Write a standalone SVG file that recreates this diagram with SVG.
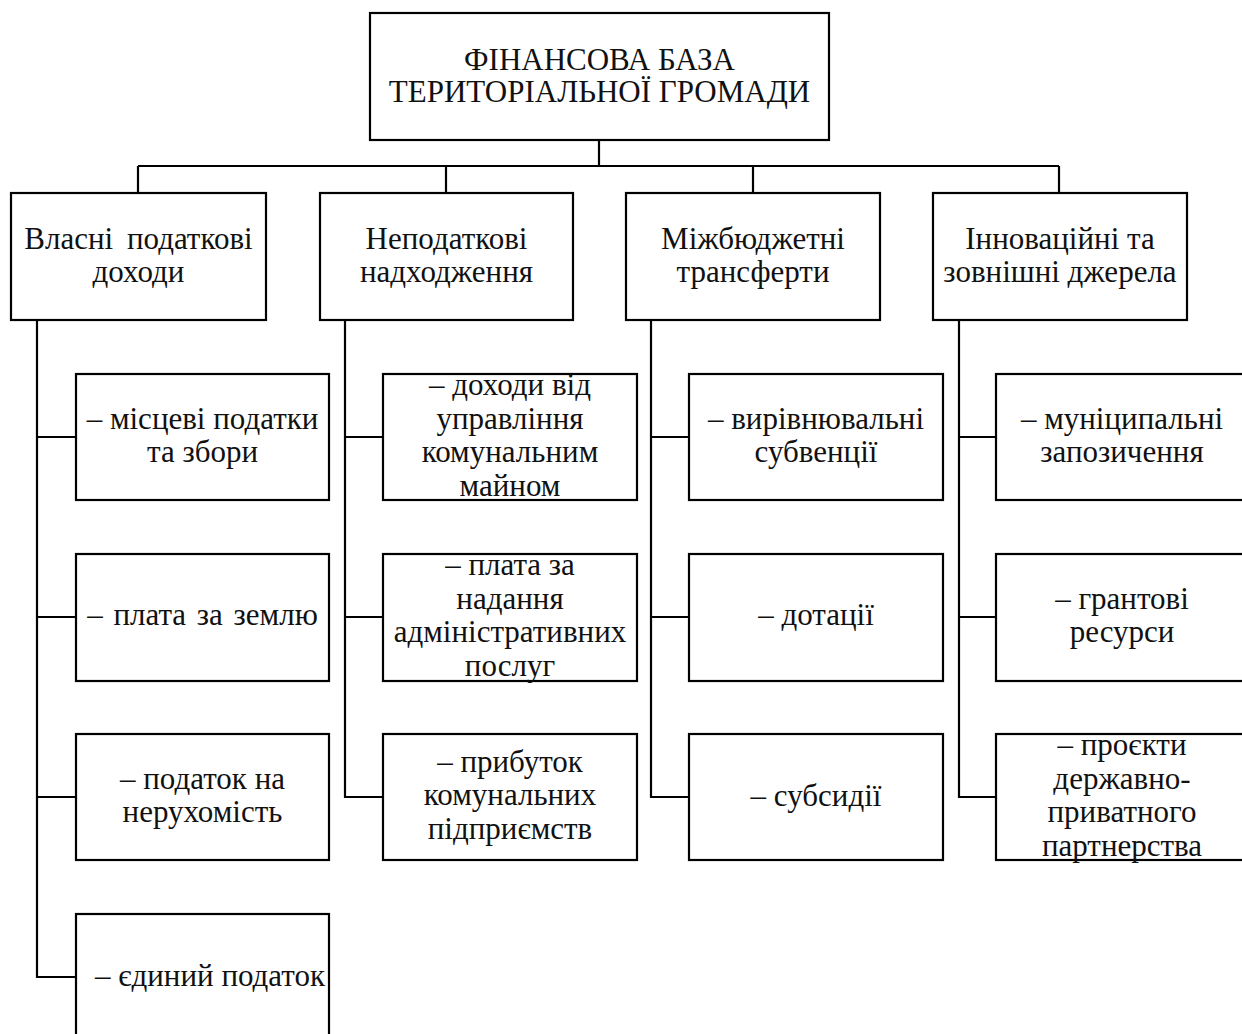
<svg xmlns="http://www.w3.org/2000/svg" width="1242" height="1034" viewBox="0 0 1242 1034">
<style>
rect{fill:#fff;stroke:#000;stroke-width:2.2}
.c line,.c path{stroke:#000;stroke-width:2.2;fill:none}
text{font-family:"Liberation Serif","Times New Roman",serif;font-size:31px;fill:#111;text-anchor:middle}
</style>
<rect x="0" y="0" width="1242" height="1034" style="stroke:none"/>
<g class="c" id="connectors">
<line x1="599" y1="140" x2="599" y2="166"/>
<line x1="138" y1="166" x2="1059" y2="166"/>
<line x1="138" y1="166" x2="138" y2="193"/>
<line x1="446" y1="166" x2="446" y2="193"/>
<line x1="753" y1="166" x2="753" y2="193"/>
<line x1="1059" y1="166" x2="1059" y2="193"/>
<path d="M37 320 V977 H76 M37 437 H76 M37 617 H76 M37 797 H76"/>
<path d="M345 320 V797 H383 M345 437 H383 M345 617 H383"/>
<path d="M651 320 V797 H689 M651 437 H689 M651 617 H689"/>
<path d="M959 320 V797 H996 M959 437 H996 M959 617 H996"/>
</g>
<g id="root"><rect x="370" y="13" width="459" height="127"/><text x="599.5" y="70">ФІНАНСОВА БАЗА</text><text x="599.5" y="102">ТЕРИТОРІАЛЬНОЇ ГРОМАДИ</text></g>
<g id="n1"><rect x="11" y="193" width="255" height="127"/><text x="138.5" y="249" word-spacing="6">Власні податкові</text><text x="138.5" y="282">доходи</text></g>
<g id="n2"><rect x="320" y="193" width="253" height="127"/><text x="446.5" y="249">Неподаткові</text><text x="446.5" y="282">надходження</text></g>
<g id="n3"><rect x="626" y="193" width="254" height="127"/><text x="753" y="249">Міжбюджетні</text><text x="753" y="282">трансферти</text></g>
<g id="n4"><rect x="933" y="193" width="254" height="127"/><text x="1060" y="249">Інноваційні та</text><text x="1060" y="282">зовнішні джерела</text></g>
<g id="n1a"><rect x="76" y="374" width="253" height="126"/><text x="202.5" y="429">– місцеві податки</text><text x="202.5" y="462">та збори</text></g>
<g id="n1b"><rect x="76" y="554" width="253" height="127"/><text x="202.5" y="625" word-spacing="3">– плата за землю</text></g>
<g id="n1c"><rect x="76" y="734" width="253" height="126"/><text x="202.5" y="789">– податок на</text><text x="202.5" y="822">нерухомість</text></g>
<g id="n1d"><rect x="76" y="914" width="253" height="130"/><text x="210" y="986">– єдиний податок</text></g>
<g id="n2a"><rect x="383" y="374" width="254" height="126"/><text x="510" y="395">– доходи від</text><text x="510" y="429">управління</text><text x="510" y="462">комунальним</text><text x="510" y="496">майном</text></g>
<g id="n2b"><rect x="383" y="554" width="254" height="127"/><text x="510" y="575">– плата за</text><text x="510" y="609">надання</text><text x="510" y="642">адміністративних</text><text x="510" y="676">послуг</text></g>
<g id="n2c"><rect x="383" y="734" width="254" height="126"/><text x="510" y="772">– прибуток</text><text x="510" y="805">комунальних</text><text x="510" y="839">підприємств</text></g>
<g id="n3a"><rect x="689" y="374" width="254" height="126"/><text x="816" y="429">– вирівнювальні</text><text x="816" y="462">субвенції</text></g>
<g id="n3b"><rect x="689" y="554" width="254" height="127"/><text x="816" y="625">– дотації</text></g>
<g id="n3c"><rect x="689" y="734" width="254" height="126"/><text x="816" y="806">– субсидії</text></g>
<g id="n4a"><rect x="996" y="374" width="260" height="126"/><text x="1122" y="429">– муніципальні</text><text x="1122" y="462">запозичення</text></g>
<g id="n4b"><rect x="996" y="554" width="260" height="127"/><text x="1122" y="609">– грантові</text><text x="1122" y="642">ресурси</text></g>
<g id="n4c"><rect x="996" y="734" width="260" height="126"/><text x="1122" y="755">– проєкти</text><text x="1122" y="789">державно-</text><text x="1122" y="822">приватного</text><text x="1122" y="856">партнерства</text></g>
</svg>
